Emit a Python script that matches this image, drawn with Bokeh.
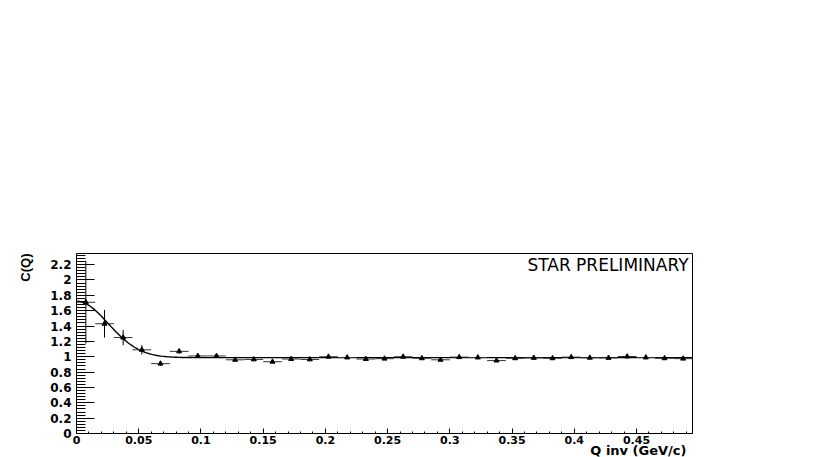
import numpy as np
from bokeh.plotting import figure
from bokeh.models import (Range1d, SingleIntervalTicker, CustomJSTickFormatter,
                          Label, ColumnDataSource, Title)
from bokeh.embed import file_html
from bokeh.resources import INLINE

# ---- data ----
q_centers = [0.0075, 0.0225, 0.0375, 0.0525, 0.0675, 0.0825, 0.0975, 0.1125,
             0.1275, 0.1425, 0.1575, 0.1725, 0.1875, 0.2025, 0.2175, 0.2325,
             0.2475, 0.2625, 0.2775, 0.2925, 0.3075, 0.3225, 0.3375, 0.3525,
             0.3675, 0.3825, 0.3975, 0.4125, 0.4275, 0.4425, 0.4575, 0.4725,
             0.4875]
bin_half_width = 0.0075
c_values = [1.71, 1.43, 1.25, 1.09, 0.91, 1.07, 1.01, 1.01, 0.96, 0.965,
            0.935, 0.97, 0.965, 1.00, 0.99, 0.97, 0.975, 1.00, 0.98, 0.96,
            0.995, 0.99, 0.95, 0.98, 0.985, 0.98, 0.995, 0.987, 0.985, 1.003,
            0.99, 0.98, 0.975]
c_errors = [0.54, 0.18, 0.10, 0.06, 0.03, 0.03, 0.02, 0.02, 0.015, 0.015,
            0.012, 0.012, 0.012, 0.012, 0.012, 0.012, 0.012, 0.012, 0.012,
            0.012, 0.012, 0.012, 0.012, 0.012, 0.012, 0.012, 0.012, 0.012,
            0.012, 0.012, 0.012, 0.012, 0.012]

# Gaussian fit C(Q) = N * (1 + lambda * exp(-(Q R / hbar c)^2))
fit_norm = 0.988
fit_lambda = 0.745
fit_radius_fm = 5.5
hbarc = 0.19733

x_title = "Q inv (GeV/c)"
y_title = "C(Q)"
watermark = "STAR PRELIMINARY"
x_ticks_major = 0.05
y_ticks_major = 0.2

q_arr = np.array(q_centers)
c_arr = np.array(c_values)
e_arr = np.array(c_errors)

src = ColumnDataSource(dict(
    q=q_arr, c=c_arr,
    lo=c_arr - e_arr, hi=c_arr + e_arr,
    ql=q_arr - bin_half_width, qr=q_arr + bin_half_width))

q_fit = np.linspace(0.0, 0.495, 300)
c_fit = fit_norm * (1 + fit_lambda * np.exp(-(q_fit * fit_radius_fm / hbarc) ** 2))

p = figure(width=830, height=457, output_backend="svg", toolbar_location=None,
           x_range=Range1d(0, 0.495), y_range=Range1d(0, 2.345),
           min_border_left=76, min_border_right=138, min_border_top=253,
           min_border_bottom=24)
p.background_fill_color = "white"
p.border_fill_color = "white"
p.outline_line_color = "black"
p.outline_line_width = 1
p.xgrid.visible = False
p.ygrid.visible = False

fmt = CustomJSTickFormatter(code="return String(Math.round(tick*1000)/1000);")

xa = p.xaxis[0]
xa.ticker = SingleIntervalTicker(interval=x_ticks_major, num_minor_ticks=5)
xa.formatter = fmt
xa.major_tick_in = 5
xa.major_tick_out = 0
xa.minor_tick_in = 2
xa.minor_tick_out = 0
xa.major_label_standoff = 2
xa.major_label_text_font = "DejaVu Sans"
xa.major_label_text_font_style = "bold"
xa.major_label_text_font_size = "11px"
xa.major_label_text_color = "black"
xa.axis_line_color = "black"
xa.major_tick_line_color = "black"
xa.minor_tick_line_color = "black"

ya = p.yaxis[0]
ya.ticker = SingleIntervalTicker(interval=y_ticks_major, num_minor_ticks=5)
ya.formatter = fmt
ya.major_tick_in = 18
ya.major_tick_out = 0
ya.minor_tick_in = 9
ya.minor_tick_out = 0
ya.major_label_standoff = 5
ya.major_label_text_font = "DejaVu Sans"
ya.major_label_text_font_style = "bold"
ya.major_label_text_font_size = "12px"
ya.major_label_text_color = "black"
ya.axis_line_color = "black"
ya.major_tick_line_color = "black"
ya.minor_tick_line_color = "black"

# axis titles, right/top aligned like the ROOT original
p.add_layout(Title(text=x_title, align="right", vertical_align="top",
                   offset=6, text_font="DejaVu Sans",
                   text_font_style="bold", text_font_size="13px",
                   text_color="black", standoff=-7), "below")
p.add_layout(Title(text=y_title, align="right", vertical_align="bottom",
                   text_font="Liberation Sans",
                   text_font_style="bold", text_font_size="13px",
                   text_color="black", standoff=30), "left")

# fit curve
p.line(q_fit, c_fit, line_color="black", line_width=1.4)

# error bars
p.segment(x0="q", y0="lo", x1="q", y1="hi", source=src, line_color="black", line_width=1)
p.segment(x0="ql", y0="c", x1="qr", y1="c", source=src, line_color="#333333", line_width=1)

# markers
p.scatter(x="q", y="c", source=src, marker="triangle", size=5,
          fill_color="black", line_color="black")

# watermark text inside the frame
p.add_layout(Label(x=0.4918, y=2.19, text=watermark, text_align="right",
                   text_baseline="alphabetic", text_font="DejaVu Sans",
                   text_font_size="17px", text_color="black"))

open("out.html", "w").write(file_html(p, INLINE))
